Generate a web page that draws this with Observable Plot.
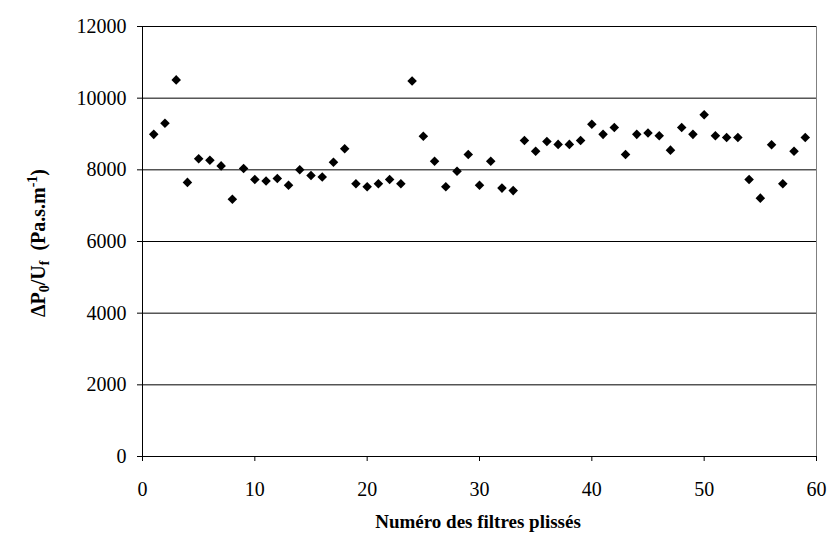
<!DOCTYPE html>
<html>
<head>
<meta charset="utf-8">
<script src="https://cdn.jsdelivr.net/npm/d3@7"></script>
<script src="https://cdn.jsdelivr.net/npm/@observablehq/plot@0.6"></script>
<style>
  html, body { margin: 0; padding: 0; background: #fff; }
  #chart svg { display: block; }
</style>
</head>
<body>
<div id="chart"></div>
<script>
const filterNumbers = d3.range(1, 60);
const values = [
  8990, 9300, 10510, 7650, 8310, 8270, 8110, 7180, 8040, 7730,
  7690, 7760, 7570, 8000, 7840, 7800, 8210, 8590, 7610, 7530,
  7610, 7730, 7610, 10480, 8940, 8240, 7530, 7960, 8430, 7570,
  8240, 7490, 7420, 8820, 8520, 8790, 8710, 8710, 8820, 9270,
  8990, 9180, 8430, 8990, 9030, 8950, 8550, 9180, 8990, 9540,
  8950, 8900, 8900, 7730, 7210, 8700, 7610, 8520, 8900
];
const xTicks = [0, 10, 20, 30, 40, 50, 60];
const yTicks = [0, 2000, 4000, 6000, 8000, 10000, 12000];
const xTitle = "Numéro des filtres plissés";
const serif = "Liberation Serif";

const data = filterNumbers.map((n, i) => ({n, v: values[i]}));

const chart = Plot.plot({
  width: 829,
  height: 535,
  marginLeft: 142,
  marginRight: 13,
  marginTop: 26,
  marginBottom: 79,
  x: {domain: [0, 60], label: null},
  y: {domain: [0, 12000], label: null},
  marks: [
    Plot.frame({stroke: "#808080"}),
    Plot.gridY(yTicks, {stroke: "#000", strokeOpacity: 1, strokeWidth: 1}),
    Plot.ruleX([0], {stroke: "#000"}),
    Plot.ruleY([0], {stroke: "#000"}),
    Plot.axisX({ticks: xTicks, tickSize: 5, tickPadding: 20, label: null, fontSize: 20, fontFamily: serif}),
    Plot.axisY({ticks: yTicks, tickSize: 5, tickPadding: 11, label: null, fontSize: 20, fontFamily: serif, tickFormat: d => String(d)}),
    Plot.dot(data, {x: "n", y: "v", symbol: "diamond2", r: 4.3, fill: "#000", stroke: "none"})
  ]
});

document.getElementById("chart").appendChild(chart);

const svg = d3.select(chart);
svg.append("text")
  .attr("x", 478)
  .attr("y", 528)
  .attr("text-anchor", "middle")
  .attr("font-weight", "bold")
  .attr("font-size", 19)
  .attr("font-family", serif)
  .attr("fill", "#000")
  .text(xTitle);

const yl = svg.append("text")
  .attr("transform", "translate(45,243) rotate(-90)")
  .attr("text-anchor", "middle")
  .attr("font-weight", "bold")
  .attr("font-size", 20)
  .attr("font-family", serif)
  .attr("fill", "#000");
yl.append("tspan").text("ΔP");
yl.append("tspan").attr("font-size", 14).attr("dy", 4).text("0");
yl.append("tspan").attr("dy", -4).text("/U");
yl.append("tspan").attr("font-size", 14).attr("dy", 4).text("f");
yl.append("tspan").attr("dy", -4).text("  (Pa.s.m");
yl.append("tspan").attr("font-size", 14).attr("dy", -8).text("-1");
yl.append("tspan").attr("dy", 8).text(")");
</script>
</body>
</html>
